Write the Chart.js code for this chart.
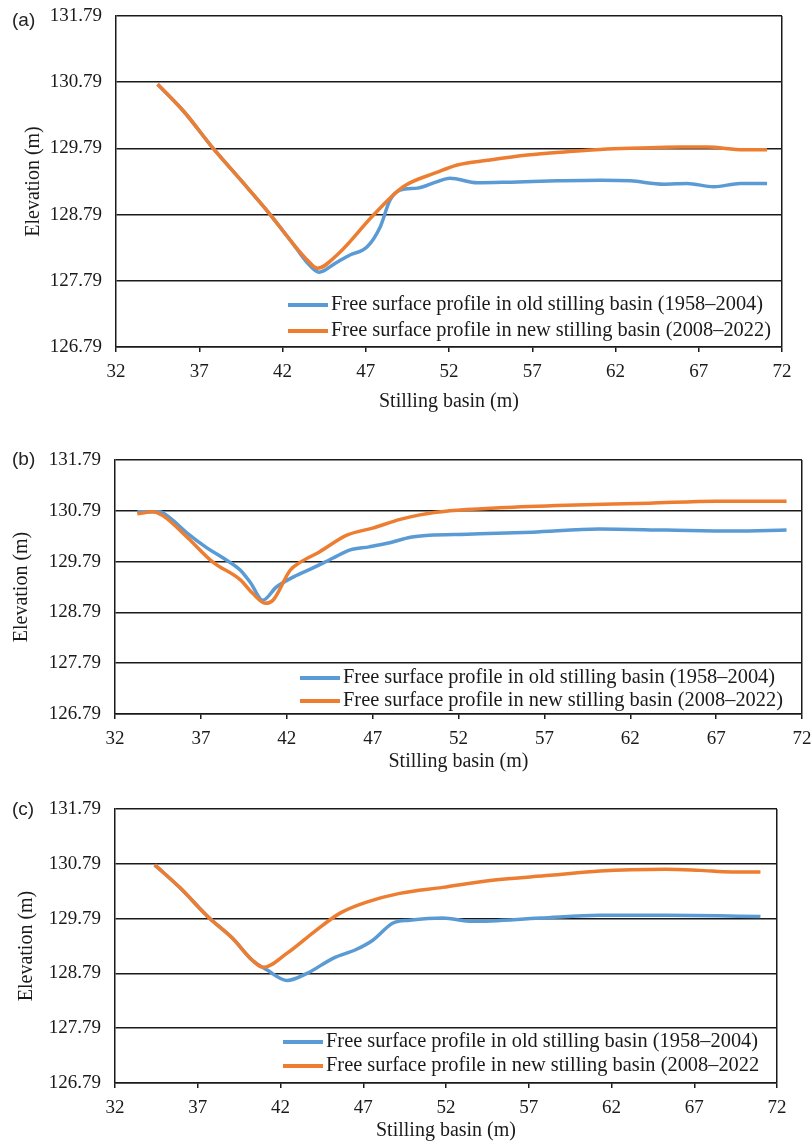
<!DOCTYPE html>
<html>
<head>
<meta charset="utf-8">
<script src="https://cdn.jsdelivr.net/npm/chart.js@4.4.1/dist/chart.umd.min.js"></script>
<style>
  body { margin: 0; background: #fff; width: 812px; height: 1143px; position: relative; overflow: hidden; }
  .panel { position: absolute; left: 0; }
  .tag { position: absolute; left: 12px; font: 19px "Liberation Sans", Arial, sans-serif; color: #222; line-height: 1; }
</style>
</head>
<body>
<div class="panel" style="top:0px"><canvas id="chartA" width="812" height="420"></canvas></div>
<div class="panel" style="top:420px"><canvas id="chartB" width="812" height="360"></canvas></div>
<div class="panel" style="top:780px"><canvas id="chartC" width="812" height="363"></canvas></div>
<div class="tag" style="top:10px">(a)</div>
<div class="tag" style="top:449px">(b)</div>
<div class="tag" style="top:799px">(c)</div>
<script>
// tick labels
var xTicks = [32, 37, 42, 47, 52, 57, 62, 67, 72];
var yTicks = [126.79, 127.79, 128.79, 129.79, 130.79, 131.79];

var oldLabel = 'Free surface profile in old stilling basin (1958–2004)';
var newLabel = 'Free surface profile in new stilling basin (2008–2022)';
var newLabelC = 'Free surface profile in new stilling basin (2008–2022';

// (a)
var aOldX = [34.5, 36.1, 37.8, 39.5, 41.2, 42.6, 43.5, 44.2, 45.2, 46.05, 47.07, 47.86, 48.46, 49.06, 50.1, 51.2, 52.06, 53.7, 55.7, 58.5, 61.1, 62.9, 64.9, 66.3, 67.9, 69.5, 71.1];
var aOldY = [130.76, 130.34, 129.80, 129.31, 128.81, 128.36, 128.06, 127.92, 128.06, 128.18, 128.30, 128.60, 129.01, 129.16, 129.19, 129.28, 129.34, 129.27, 129.28, 129.30, 129.31, 129.30, 129.25, 129.26, 129.21, 129.26, 129.26];
var aNewX = [34.5, 36.1, 37.8, 39.5, 41.2, 42.6, 43.5, 44.1, 45.4, 47.45, 49.25, 51.3, 52.5, 54.3, 56.7, 59.1, 61.5, 64.1, 66.0, 67.5, 69.7, 71.1];
var aNewY = [130.76, 130.34, 129.80, 129.31, 128.81, 128.36, 128.10, 127.98, 128.21, 128.78, 129.21, 129.43, 129.54, 129.61, 129.69, 129.74, 129.78, 129.80, 129.81, 129.81, 129.77, 129.77];

// (b)
var bOldX = [33.3, 34.6, 35.2, 36.2, 37.35, 38.3, 39.3, 39.9, 40.6, 41.4, 42.4, 43.5, 44.7, 45.7, 46.8, 48.0, 49.2, 50.3, 52.5, 56.3, 60.2, 64.1, 68.0, 71.1];
var bOldY = [130.77, 130.77, 130.65, 130.35, 130.06, 129.86, 129.62, 129.37, 129.03, 129.29, 129.49, 129.66, 129.86, 130.02, 130.08, 130.16, 130.27, 130.31, 130.33, 130.37, 130.43, 130.41, 130.39, 130.41];
var bNewX = [33.3, 34.2, 34.8, 36.2, 37.7, 39.3, 40.0, 40.75, 41.2, 42.2, 42.8, 43.9, 45.5, 47.0, 48.6, 49.75, 51.5, 54.4, 58.3, 63.1, 67.0, 71.1];
var bNewY = [130.73, 130.77, 130.69, 130.27, 129.78, 129.43, 129.17, 128.97, 129.03, 129.62, 129.78, 129.98, 130.31, 130.45, 130.62, 130.71, 130.79, 130.85, 130.90, 130.94, 130.98, 130.98];

// (c)
var cOldX = [34.4, 35.9, 37.7, 39.1, 40.3, 41.2, 42.4, 43.6, 45.2, 46.6, 47.6, 48.8, 49.8, 51.8, 53.6, 57.7, 61.3, 65.3, 71.0];
var cOldY = [130.77, 130.36, 129.80, 129.43, 129.03, 128.85, 128.66, 128.79, 129.07, 129.23, 129.40, 129.71, 129.76, 129.80, 129.74, 129.80, 129.85, 129.85, 129.83];
var cNewX = [34.4, 35.9, 37.7, 39.1, 40.3, 40.95, 42.4, 44.0, 45.6, 47.2, 49.2, 51.8, 54.8, 58.3, 61.3, 65.3, 67.3, 69.3, 71.0];
var cNewY = [130.77, 130.36, 129.80, 129.43, 129.03, 128.90, 129.16, 129.54, 129.89, 130.09, 130.25, 130.36, 130.49, 130.58, 130.66, 130.69, 130.67, 130.64, 130.64];

var BLUE = '#5B9BD5';
var ORANGE = '#ED7D31';
var INK = '#1a1a1a';
var SERIF = '"Liberation Serif", "Times New Roman", serif';

function toPoints(xs, ys) {
  return xs.map(function (x, i) { return { x: x, y: ys[i] }; });
}

// legend drawn inside the plot, bottom right
var innerLegend = {
  id: 'innerLegend',
  afterDatasetsDraw: function (chart, args, opts) {
    var ctx = chart.ctx, area = chart.chartArea;
    ctx.save();
    ctx.font = '20.4px ' + SERIF;
    ctx.textBaseline = 'middle';
    chart.data.datasets.forEach(function (ds, i) {
      var x = area.left + opts.left;
      var y = area.bottom - opts.rows[i];
      ctx.strokeStyle = ds.borderColor;
      ctx.lineWidth = 4;
      ctx.beginPath();
      ctx.moveTo(x, y);
      ctx.lineTo(x + 40, y);
      ctx.stroke();
      ctx.fillStyle = INK;
      ctx.fillText(ds.label, x + 43, y);
    });
    ctx.restore();
  }
};

function makeChart(id, oldPts, newPts, labels, box) {
  var ctx = document.getElementById(id).getContext('2d');
  return new Chart(ctx, {
    type: 'line',
    data: {
      datasets: [
        { label: labels[0], data: oldPts, borderColor: BLUE, borderWidth: 3.5, order: 1 },
        { label: labels[1], data: newPts, borderColor: ORANGE, borderWidth: 3.5, order: 0 }
      ]
    },
    options: {
      responsive: false,
      animation: false,
      layout: { padding: { left: 0, right: box.right, top: box.top, bottom: box.bottom } },
      elements: {
        point: { radius: 0 },
        line: { cubicInterpolationMode: 'monotone', fill: false }
      },
      plugins: {
        legend: { display: false },
        tooltip: { enabled: false },
        innerLegend: { left: box.legLeft, rows: box.legRows }
      },
      scales: {
        x: {
          type: 'linear',
          min: 32,
          max: 72,
          afterBuildTicks: function (s) { s.ticks = xTicks.map(function (v) { return { value: v }; }); },
          afterFit: function (s) { s.height = box.xHeight; s.paddingLeft = 0; s.paddingRight = 0; },
          ticks: { color: INK, font: { family: SERIF, size: 19 }, padding: 9, maxRotation: 0,
                   callback: function (v) { return String(v); } },
          grid: {
            drawOnChartArea: true,
            color: function (c) { return c.tick && c.tick.value === 72 ? INK : 'rgba(0,0,0,0)'; },
            tickColor: INK,
            tickLength: 5,
            lineWidth: 1.5
          },
          border: { display: true, color: INK, width: 1.5 },
          title: { display: true, text: 'Stilling basin (m)', color: INK,
                   font: { family: SERIF, size: 20 }, padding: 0 }
        },
        y: {
          min: 126.79,
          max: 131.79,
          afterBuildTicks: function (s) { s.ticks = yTicks.map(function (v) { return { value: v }; }); },
          afterFit: function (s) { s.width = box.yWidth; s.paddingTop = 0; s.paddingBottom = 0; },
          ticks: { color: INK, font: { family: SERIF, size: 19 }, padding: 14,
                   callback: function (v) { return v.toFixed(2); } },
          grid: { color: INK, lineWidth: 1.5, drawTicks: false },
          border: { display: true, color: INK, width: 1.5 },
          title: { display: true, text: 'Elevation (m)', color: INK,
                   font: { family: SERIF, size: 20 }, padding: { top: box.yTitlePad, bottom: 0 } }
        }
      }
    },
    plugins: [innerLegend]
  });
}

makeChart('chartA', toPoints(aOldX, aOldY), toPoints(aNewX, aNewY), [oldLabel, newLabel],
  { top: 16, right: 30, bottom: 6, xHeight: 67, yWidth: 116, yTitlePad: 22, legLeft: 172, legRows: [42, 16] });
makeChart('chartB', toPoints(bOldX, bOldY), toPoints(bNewX, bNewY), [oldLabel, newLabel],
  { top: 40, right: 10, bottom: 6, xHeight: 60, yWidth: 115, yTitlePad: 10, legLeft: 185, legRows: [36, 13] });
makeChart('chartC', toPoints(cOldX, cOldY), toPoints(cNewX, cNewY), [oldLabel, newLabelC],
  { top: 29, right: 35, bottom: 0, xHeight: 60, yWidth: 115, yTitlePad: 15, legLeft: 168, legRows: [41, 17] });
</script>
</body>
</html>
